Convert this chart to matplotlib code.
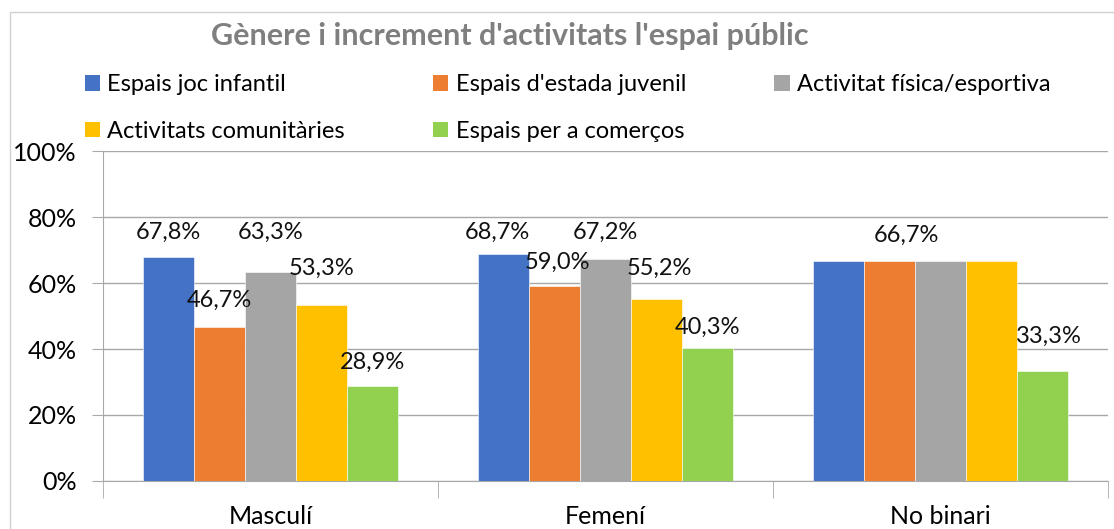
import matplotlib
matplotlib.use("Agg")
import matplotlib.pyplot as plt
from matplotlib.patches import Rectangle, Patch
import numpy as np

categories = ["Masculí", "Femení", "No binari"]
series = ["Espais joc infantil", "Espais d'estada juvenil", "Activitat física/esportiva",
          "Activitats comunitàries", "Espais per a comerços"]
values = [
    [67.8, 68.7, 66.7],
    [46.7, 59.0, 66.7],
    [63.3, 67.2, 66.7],
    [53.3, 55.2, 66.7],
    [28.9, 40.3, 33.3],
]
labels = [
    ["67,8%", "68,7%", ""],
    ["46,7%", "59,0%", "66,7%"],
    ["63,3%", "67,2%", ""],
    ["53,3%", "55,2%", ""],
    ["28,9%", "40,3%", "33,3%"],
]
# label vertical positions (as % on the axis) -- styling of label placement
label_y = [
    [75.5, 75.5, 0],
    [54.8, 66.4, 74.5],
    [75.5, 75.5, 0],
    [64.5, 64.5, 0],
    [36.1, 46.7, 43.9],
]
label_dx = [
    [0, -0.02, 0],
    [0, 0.01, 0.05],
    [0, 0, 0],
    [0, 0.01, 0],
    [0, 0, 0.02],
]
colors = ["#4472C4", "#ED7D31", "#A5A5A5", "#FFC000", "#92D050"]
yticks = [0, 20, 40, 60, 80, 100]

FONT = "Lato"
plt.rcParams["font.family"] = [FONT, "DejaVu Sans"]

W, H = 1114, 529
fig = plt.figure(figsize=(W / 100, H / 100), dpi=100)

# chart border
fig.patches.append(Rectangle((10 / W, -0.1), 1.2, 1.1 - 12 / H, transform=fig.transFigure,
                             fill=False, edgecolor="#d0d0d0", linewidth=1.0))

ax = fig.add_axes([103 / W, 1 - 481 / H, (1108 - 103) / W, (481 - 151) / H])
x = np.arange(len(categories))
bw = 0.152
for i, (s, vals) in enumerate(zip(series, values)):
    pos = x + (i - 2) * bw
    ax.bar(pos, vals, width=bw, color=colors[i], edgecolor="white", linewidth=0.4, label=s, zorder=3)
    for j in range(len(categories)):
        if labels[i][j]:
            ax.text(pos[j] + label_dx[i][j], label_y[i][j], labels[i][j], ha="center", va="center",
                    fontsize=17, color="#111111", zorder=4)

ax.set_xlim(-0.5, 2.5)
ax.set_ylim(0, 100)
ax.set_yticks(yticks)
ax.set_yticklabels([f"{t}%" for t in yticks], fontsize=18)
ax.yaxis.grid(True, color="#a8a8a8", linewidth=1.0, zorder=0)
ax.tick_params(axis="y", length=8, color="#a8a8a8", pad=11)
ax.set_xticks(x)
ax.set_xticklabels(categories, fontsize=18)
ax.set_xticks([0.5, 1.5, 2.5, -0.5], minor=True)
ax.tick_params(axis="x", which="major", length=0, pad=17)
ax.tick_params(axis="x", which="minor", length=12, color="#a8a8a8")
for side in ["top", "right"]:
    ax.spines[side].set_visible(False)
ax.spines["left"].set_color("#a8a8a8")
ax.spines["bottom"].set_color("#a8a8a8")
ax.spines["left"].set_zorder(5)

fig.text(510 / W, 1 - 36 / H, "Gènere i increment d'activitats l'espai públic",
         ha="center", va="center", fontsize=22, fontweight="bold", color="#7f7f7f")

handles = [Patch(facecolor=c) for c in colors]
order = [0, 3, 1, 4, 2]
leg = fig.legend([handles[k] for k in order], [series[k] for k in order], ncol=3,
                 loc="upper left", bbox_to_anchor=(85 / W, 1 - 74 / H), frameon=False,
                 fontsize=17, handlelength=0.64, handleheight=0.64, handletextpad=0.3,
                 columnspacing=3.75, labelspacing=1.1, borderaxespad=0, borderpad=0)

fig.savefig("out.png", dpi=100)
